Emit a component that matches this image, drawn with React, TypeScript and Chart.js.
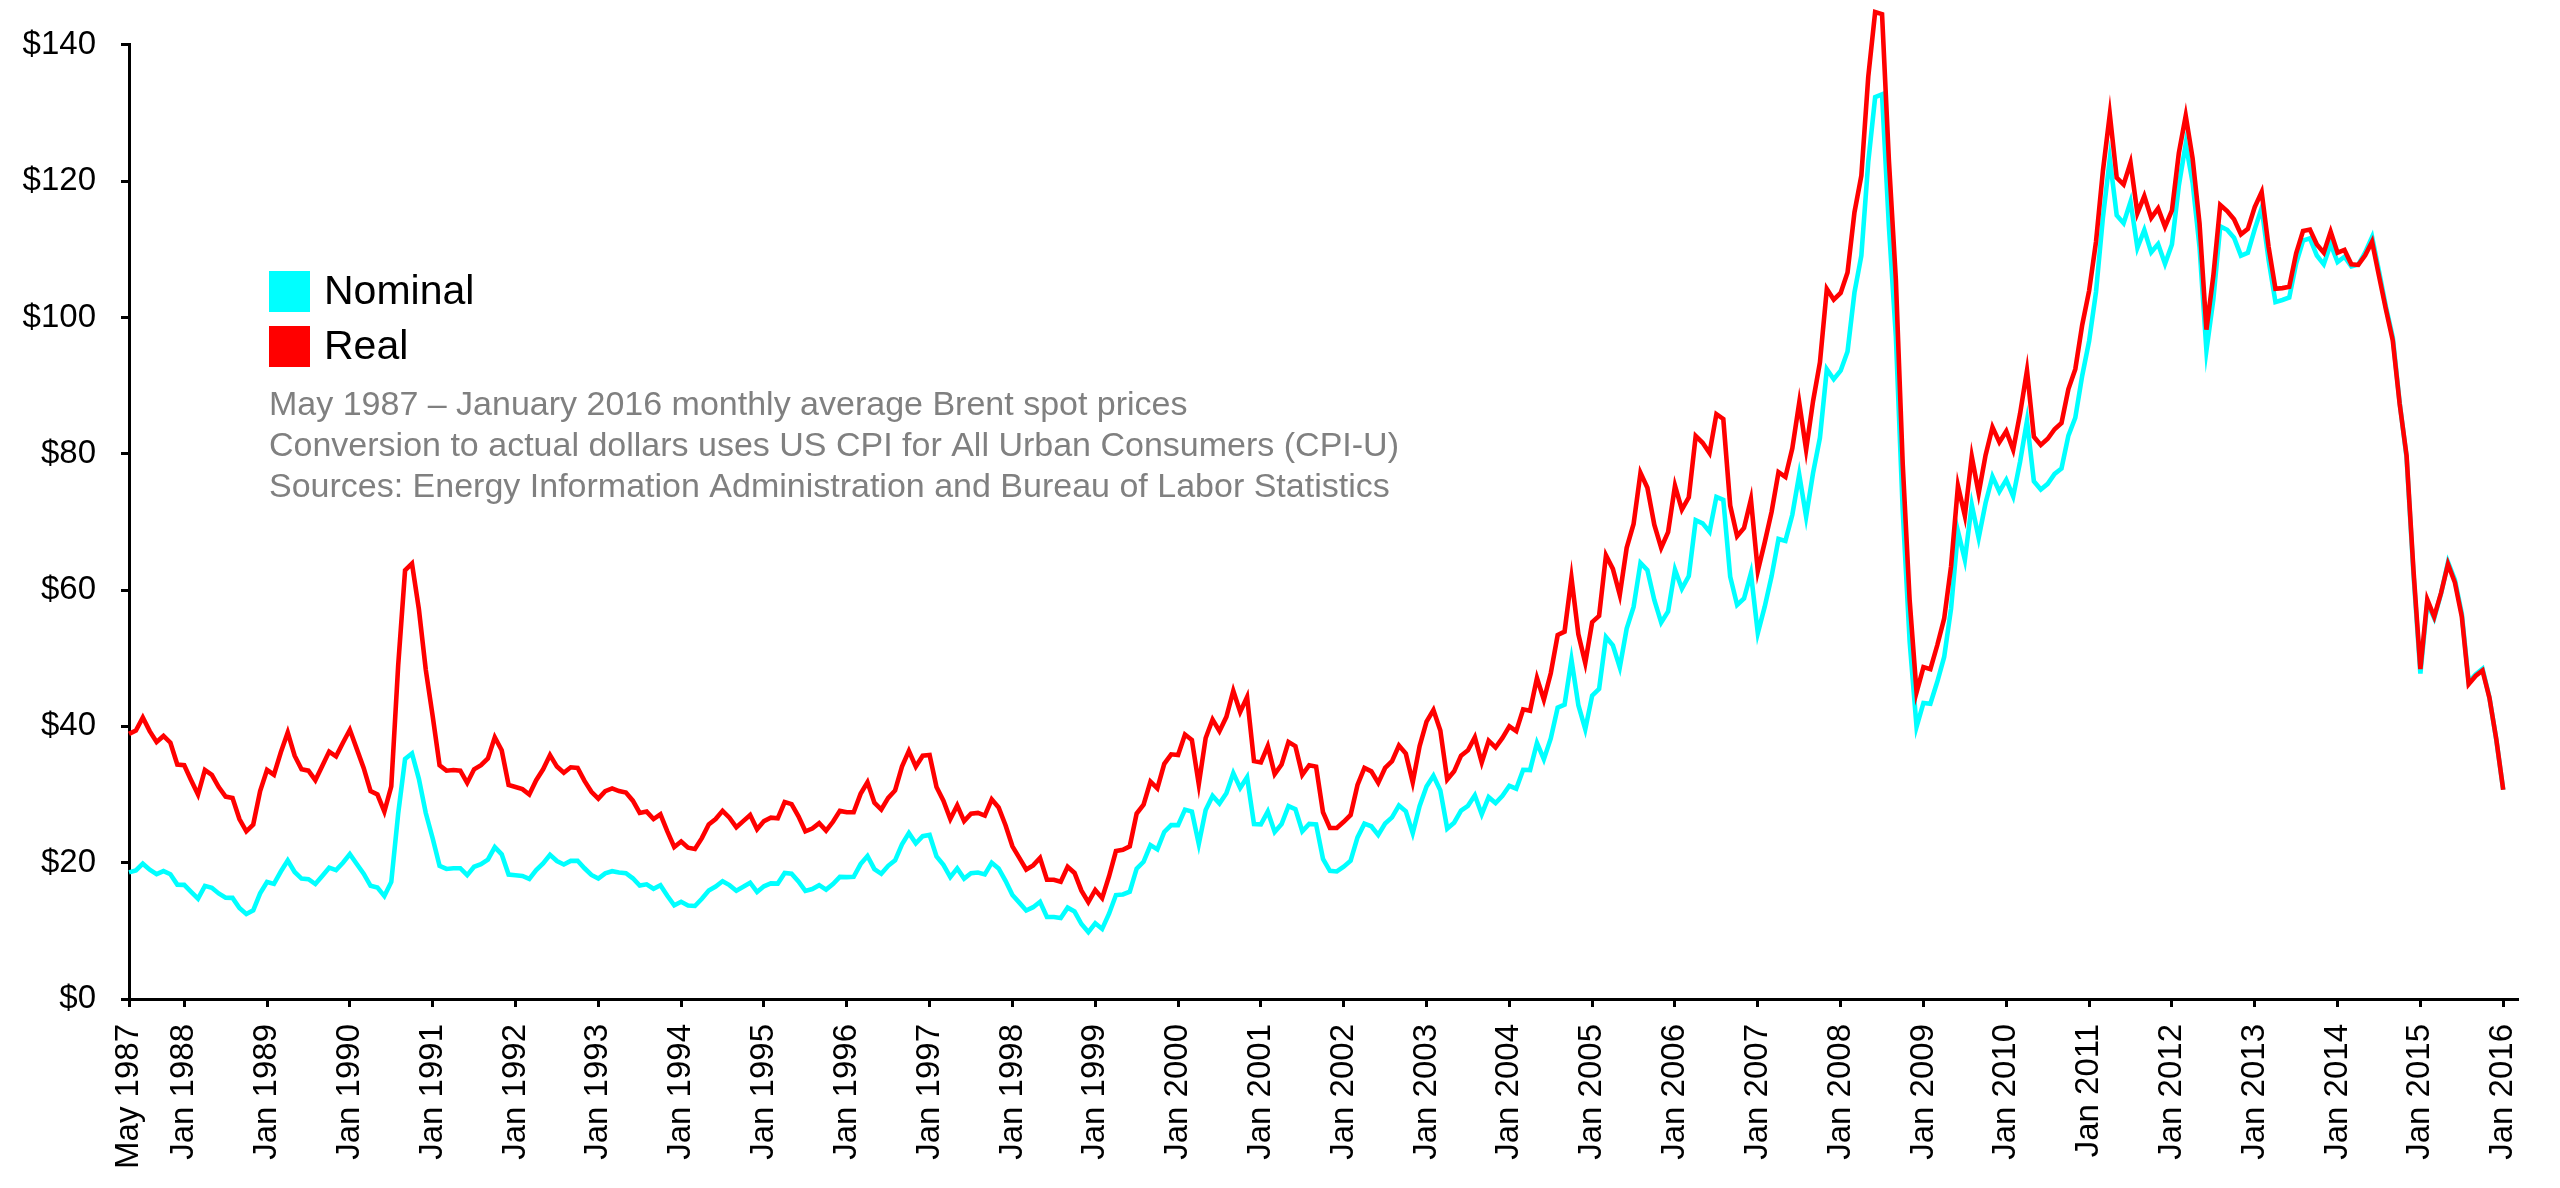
import React, { useEffect, useRef } from "react";
import { Chart, registerables } from "chart.js";

Chart.register(...registerables);

// Monthly average Brent spot price, May 1987 – Jan 2016 (US$ per barrel)
const nominal: number[] = [
  // 1987 (May–Dec)
  18.58, 18.86, 19.86, 18.98, 18.31, 18.76, 18.31, 16.78,
  // 1988
  16.75, 15.73, 14.73, 16.6, 16.31, 15.49, 14.85, 14.84, 13.35, 12.47, 13.02, 15.5,
  // 1989
  17.17, 16.89, 18.7, 20.32, 18.63, 17.67, 17.58, 16.87, 18.06, 19.27, 18.9, 19.99,
  // 1990
  21.25, 19.81, 18.39, 16.61, 16.35, 15.1, 17.17, 27.17, 35.23, 36.02, 32.31, 27.28,
  // 1991
  23.57, 19.54, 19.08, 19.18, 19.19, 18.17, 19.4, 19.77, 20.45, 22.29, 21.23, 18.26,
  // 1992
  18.16, 18.05, 17.63, 18.92, 19.89, 21.16, 20.24, 19.74, 20.27, 20.28, 19.18, 18.2,
  // 1993
  17.67, 18.44, 18.75, 18.57, 18.45, 17.71, 16.64, 16.82, 16.17, 16.69, 15.14, 13.74,
  // 1994
  14.26, 13.73, 13.65, 14.71, 15.91, 16.51, 17.29, 16.71, 15.89, 16.46, 17.06, 15.71,
  // 1995
  16.54, 16.96, 16.93, 18.5, 18.37, 17.26, 15.86, 16.13, 16.7, 16.05, 16.87, 17.91,
  // 1996
  17.88, 17.93, 19.79, 20.98, 19.06, 18.37, 19.54, 20.35, 22.69, 24.34, 22.84, 23.89,
  // 1997
  24.07, 20.93, 19.68, 17.88, 19.17, 17.67, 18.46, 18.55, 18.28, 20.0, 19.15, 17.35,
  // 1998
  15.26, 14.14, 12.99, 13.47, 14.26, 12.04, 12.02, 11.89, 13.4, 12.83, 11.0, 9.82,
  // 1999
  11.11, 10.28, 12.51, 15.25, 15.34, 15.74, 19.12, 20.13, 22.59, 21.95, 24.51, 25.52,
  // 2000
  25.51, 27.78, 27.49, 22.76, 27.74, 29.8, 28.68, 30.2, 33.14, 30.96, 32.55, 25.66,
  // 2001
  25.62, 27.5, 24.5, 25.66, 28.31, 27.85, 24.61, 25.68, 25.62, 20.54, 18.8, 18.71,
  // 2002
  19.42, 20.28, 23.7, 25.73, 25.35, 24.08, 25.74, 26.65, 28.4, 27.54, 24.34, 28.33,
  // 2003
  31.18, 32.77, 30.61, 25.0, 25.86, 27.65, 28.35, 29.89, 27.11, 29.61, 28.75, 29.81,
  // 2004
  31.28, 30.86, 33.63, 33.59, 37.57, 35.18, 38.22, 42.74, 43.2, 49.78, 43.11, 39.6,
  // 2005
  44.51, 45.48, 53.1, 51.88, 48.65, 54.35, 57.52, 63.98, 62.91, 58.54, 55.24, 56.86,
  // 2006
  62.99, 60.21, 62.06, 70.26, 69.78, 68.56, 73.67, 73.23, 61.96, 57.81, 58.76, 62.47,
  // 2007
  53.68, 57.56, 62.05, 67.49, 67.21, 71.05, 76.93, 70.76, 77.17, 82.34, 92.41, 90.93,
  // 2008
  92.18, 94.99, 103.64, 109.07, 122.8, 132.32, 132.72, 113.24, 97.23, 71.58, 52.45, 39.95,
  // 2009
  43.44, 43.32, 46.54, 50.18, 57.3, 68.61, 64.44, 72.51, 67.65, 72.77, 76.66, 74.46,
  // 2010
  76.17, 73.75, 78.83, 84.82, 75.95, 74.76, 75.58, 77.04, 77.84, 82.67, 85.28, 91.45,
  // 2011
  96.52, 103.72, 114.64, 123.26, 114.99, 113.83, 116.97, 110.22, 112.83, 109.55, 110.77, 107.87,
  // 2012
  110.69, 119.33, 125.45, 119.75, 110.34, 95.16, 102.62, 113.36, 112.86, 111.71, 109.06, 109.49,
  // 2013
  112.96, 116.05, 108.47, 102.25, 102.56, 102.92, 107.93, 111.28, 111.6, 109.08, 107.79, 110.76,
  // 2014
  108.12, 108.9, 107.48, 107.76, 109.54, 111.8, 106.77, 101.61, 97.09, 87.43, 79.44, 62.34,
  // 2015
  47.76, 58.1, 55.89, 59.52, 64.08, 61.48, 56.56, 46.52, 47.62, 48.43, 44.27, 38.01,
  // 2016
  30.7,
];

// Same months in January 2016 dollars (CPI-U adjusted)
const real: number[] = [
  // 1987 (May–Dec)
  38.9, 39.4, 41.3, 39.3, 37.7, 38.6, 37.6, 34.4,
  // 1988
  34.3, 32.1, 30.0, 33.6, 32.9, 31.1, 29.7, 29.5, 26.4, 24.6, 25.6, 30.5,
  // 1989
  33.6, 32.9, 36.2, 39.1, 35.7, 33.7, 33.5, 32.1, 34.2, 36.3, 35.6, 37.6,
  // 1990
  39.5, 36.7, 33.9, 30.5, 30.0, 27.5, 31.2, 48.9, 62.9, 63.9, 57.2, 48.3,
  // 1991
  41.5, 34.3, 33.5, 33.6, 33.5, 31.7, 33.7, 34.3, 35.3, 38.4, 36.5, 31.4,
  // 1992
  31.1, 30.8, 30.0, 32.1, 33.7, 35.8, 34.1, 33.2, 34.0, 33.9, 32.0, 30.4,
  // 1993
  29.4, 30.5, 30.9, 30.5, 30.3, 29.1, 27.3, 27.5, 26.4, 27.1, 24.6, 22.3,
  // 1994
  23.1, 22.2, 22.0, 23.6, 25.6, 26.4, 27.6, 26.6, 25.2, 26.1, 27.0, 24.9,
  // 1995
  26.1, 26.6, 26.5, 28.9, 28.6, 26.8, 24.6, 25.0, 25.8, 24.7, 26.0, 27.6,
  // 1996
  27.4, 27.4, 30.1, 31.8, 28.8, 27.8, 29.5, 30.6, 34.1, 36.4, 34.1, 35.7,
  // 1997
  35.8, 31.1, 29.1, 26.4, 28.4, 26.1, 27.2, 27.3, 26.9, 29.3, 28.1, 25.5,
  // 1998
  22.4, 20.7, 19.0, 19.6, 20.7, 17.5, 17.5, 17.2, 19.4, 18.5, 15.9, 14.2,
  // 1999
  16.0, 14.8, 18.0, 21.7, 21.9, 22.4, 27.2, 28.5, 31.9, 30.9, 34.5, 35.9,
  // 2000
  35.8, 38.8, 38.0, 31.5, 38.3, 41.0, 39.3, 41.4, 45.2, 42.1, 44.3, 34.9,
  // 2001
  34.7, 37.1, 33.0, 34.4, 37.7, 37.1, 32.9, 34.3, 34.1, 27.4, 25.1, 25.1,
  // 2002
  26.0, 27.0, 31.4, 33.9, 33.4, 31.7, 33.9, 34.9, 37.2, 36.0, 31.8, 37.1,
  // 2003
  40.7, 42.4, 39.4, 32.2, 33.4, 35.7, 36.5, 38.4, 34.7, 37.9, 36.9, 38.3,
  // 2004
  40.0, 39.3, 42.5, 42.3, 47.1, 43.9, 47.8, 53.4, 53.9, 61.8, 53.5, 49.3,
  // 2005
  55.3, 56.2, 65.1, 63.1, 59.3, 66.2, 69.7, 77.2, 75.0, 69.6, 66.2, 68.5,
  // 2006
  75.3, 71.8, 73.6, 82.6, 81.6, 80.1, 85.8, 85.1, 72.4, 67.9, 69.1, 73.3,
  // 2007
  62.8, 67.0, 71.5, 77.3, 76.6, 80.8, 87.5, 80.6, 87.7, 93.4, 104.2, 102.6,
  // 2008
  103.6, 106.6, 115.4, 120.8, 135.3, 144.8, 144.5, 122.9, 105.6, 78.4, 58.5, 45.0,
  // 2009
  48.7, 48.4, 51.9, 55.8, 63.5, 75.3, 70.9, 79.6, 74.2, 79.8, 83.9, 81.7,
  // 2010
  83.3, 80.6, 85.9, 92.2, 82.5, 81.3, 82.2, 83.6, 84.5, 89.5, 92.4, 98.9,
  // 2011
  103.9, 111.1, 121.5, 129.8, 120.5, 119.5, 122.7, 115.3, 117.8, 114.6, 116.0, 113.3,
  // 2012
  115.7, 124.1, 129.6, 123.3, 113.8, 98.2, 106.1, 116.5, 115.6, 114.4, 112.2, 113.0,
  // 2013
  116.2, 118.4, 110.4, 104.2, 104.3, 104.5, 109.4, 112.7, 112.9, 110.7, 109.5, 112.6,
  // 2014
  109.5, 109.9, 107.8, 107.7, 109.1, 111.1, 106.1, 101.2, 96.6, 87.3, 79.7, 62.9,
  // 2015
  48.4, 58.6, 56.1, 59.6, 63.8, 61.1, 56.1, 46.2, 47.4, 48.2, 44.2, 38.1,
  // 2016
  30.7,
];

const xTickLabels: string[] = [
  "May 1987", "Jan 1988", "Jan 1989", "Jan 1990", "Jan 1991", "Jan 1992",
  "Jan 1993", "Jan 1994", "Jan 1995", "Jan 1996", "Jan 1997", "Jan 1998",
  "Jan 1999", "Jan 2000", "Jan 2001", "Jan 2002", "Jan 2003", "Jan 2004",
  "Jan 2005", "Jan 2006", "Jan 2007", "Jan 2008", "Jan 2009", "Jan 2010",
  "Jan 2011", "Jan 2012", "Jan 2013", "Jan 2014", "Jan 2015", "Jan 2016",
];

const yMin = 0;
const yMax = 140;
const yStep = 20;

const seriesNames = ["Nominal", "Real"];
const seriesColors = ["#00FFFF", "#FF0000"];

const noteLines: string[] = [
  "May 1987 \u2013 January 2016 monthly average Brent spot prices",
  "Conversion to actual dollars uses US CPI for All Urban Consumers (CPI-U)",
  "Sources: Energy Information Administration and Bureau of Labor Statistics",
];

const MONTHS = ["Jan", "Feb", "Mar", "Apr", "May", "Jun", "Jul", "Aug", "Sep", "Oct", "Nov", "Dec"];
const START_YEAR = 1987;
const START_MONTH = 4; // May

function monthIndex(label: string): number {
  const [m, y] = label.split(" ");
  return (Number(y) - START_YEAR) * 12 + MONTHS.indexOf(m) - START_MONTH;
}

const FONT = "'Liberation Sans', Arial, Helvetica, sans-serif";

const overlayPlugin = {
  id: "overlayLegendNotes",
  afterDraw(chart: any) {
    const ctx: CanvasRenderingContext2D = chart.ctx;
    ctx.save();
    // Legend
    const boxX = 269;
    const boxSize = 41;
    const rowTops = [271, 326];
    ctx.font = `41px ${FONT}`;
    ctx.textAlign = "left";
    ctx.textBaseline = "alphabetic";
    seriesNames.forEach((name, i) => {
      ctx.fillStyle = seriesColors[i];
      ctx.fillRect(boxX, rowTops[i], boxSize, boxSize);
      ctx.fillStyle = "#000000";
      ctx.fillText(name, 324, rowTops[i] + 33);
    });
    // Notes
    ctx.font = `34px ${FONT}`;
    ctx.fillStyle = "#808080";
    noteLines.forEach((line, i) => {
      ctx.fillText(line, 269, 415 + i * 41);
    });
    ctx.restore();
  },
};

export default function App() {
  const canvasRef = useRef<HTMLCanvasElement | null>(null);

  useEffect(() => {
    const canvas = canvasRef.current;
    if (!canvas) return;
    const tickValues = xTickLabels.map(monthIndex);
    const lastIndex = nominal.length - 1;

    const axisGrid = {
      display: true,
      drawOnChartArea: false,
      drawTicks: true,
      tickLength: 8,
      color: "#000000",
      lineWidth: 3,
    };

    const chart = new Chart(canvas, {
      type: "line",
      data: {
        datasets: [
          {
            label: seriesNames[0],
            data: nominal.map((v, i) => ({ x: i, y: v })),
            borderColor: seriesColors[0],
            backgroundColor: seriesColors[0],
            borderWidth: 4.6,
            pointRadius: 0,
            tension: 0,
            clip: false as any,
            order: 1,
          },
          {
            label: seriesNames[1],
            data: real.map((v, i) => ({ x: i, y: v })),
            borderColor: seriesColors[1],
            backgroundColor: seriesColors[1],
            borderWidth: 4.6,
            pointRadius: 0,
            tension: 0,
            clip: false as any,
            order: 0,
          },
        ],
      },
      options: {
        animation: false,
        responsive: false,
        devicePixelRatio: 1,
        layout: { padding: { top: 28, right: 33, left: 0, bottom: 0 } },
        plugins: {
          legend: { display: false },
          tooltip: { enabled: false },
        },
        elements: { line: { borderJoinStyle: "miter" } },
        scales: {
          x: {
            type: "linear",
            min: 0,
            max: lastIndex + 2,
            afterBuildTicks: (scale: any) => {
              scale.ticks = tickValues.map((v) => ({ value: v }));
            },
            afterFit: (scale: any) => {
              scale.height = 189;
            },
            ticks: {
              autoSkip: false,
              minRotation: 90,
              maxRotation: 90,
              padding: 17,
              color: "#000000",
              font: { family: FONT, size: 33 },
              callback: (_v: any, index: number) => xTickLabels[index] ?? "",
            },
            grid: axisGrid,
            border: { display: true, color: "#000000", width: 3 },
          },
          y: {
            min: yMin,
            max: yMax,
            afterFit: (scale: any) => {
              scale.width = 129;
            },
            ticks: {
              stepSize: yStep,
              padding: 25,
              color: "#000000",
              font: { family: FONT, size: 33 },
              callback: (v: any) => "$" + v,
            },
            grid: axisGrid,
            border: { display: true, color: "#000000", width: 3 },
          },
        },
      },
      plugins: [overlayPlugin],
    });

    return () => {
      chart.destroy();
    };
  }, []);

  return (
    <div
      style={{
        position: "fixed",
        left: 0,
        top: 0,
        width: 2560,
        height: 1188,
        background: "#ffffff",
      }}
    >
      <canvas
        ref={canvasRef}
        width={2560}
        height={1188}
        style={{ display: "block", width: 2560, height: 1188 }}
      />
    </div>
  );
}
